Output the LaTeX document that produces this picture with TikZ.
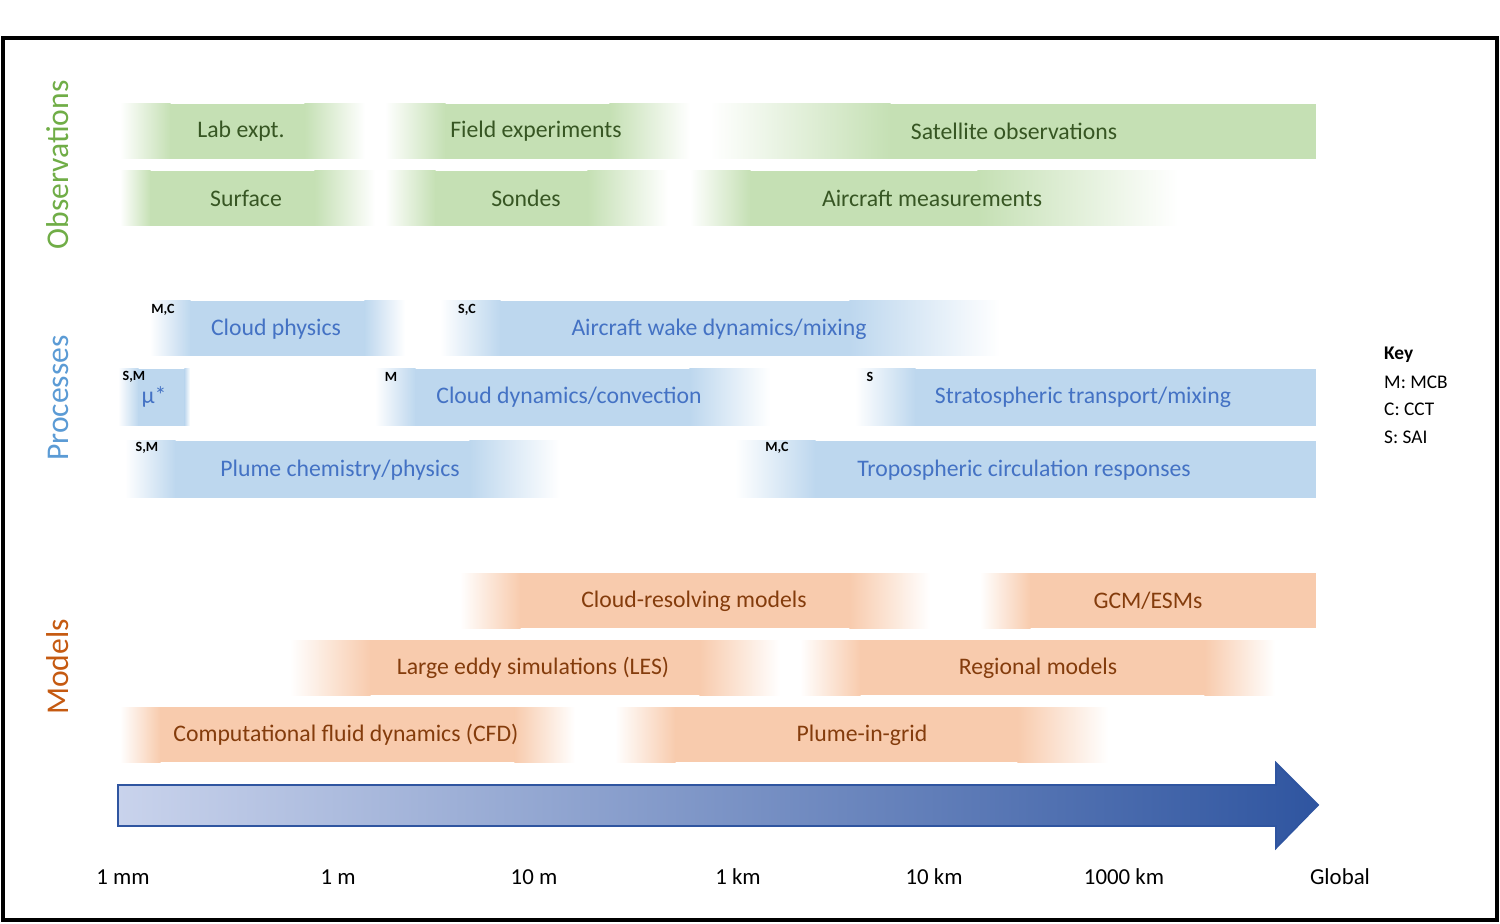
\documentclass[tikz,border=0pt]{standalone}
\usepackage{fontspec}
\setmainfont{Carlito}
\definecolor{gbar}{HTML}{C5E0B4}
\definecolor{bbar}{HTML}{BDD7EE}
\definecolor{obar}{HTML}{F8CBAD}
\definecolor{gtxt}{HTML}{375623}
\definecolor{btxt}{HTML}{4472C4}
\definecolor{otxt}{HTML}{843C0C}
\definecolor{gside}{HTML}{70AD47}
\definecolor{bside}{HTML}{5B9BD5}
\definecolor{oside}{HTML}{C55A11}
\definecolor{arrL}{HTML}{C9D3EC}
\definecolor{arrD}{HTML}{2F55A0}
\newcommand{\fb}[7]{%
  \shade[left color=white,right color=#5,shading angle=90] (#1,#3) rectangle ({#1+#6+0.6},#4);
  \fill[#5] ({#1+#6},#3) rectangle ({#2-#7},#4);
  \shade[left color=#5,right color=white] ({#2-#7-0.6},#3) rectangle (#2,#4);}
\tikzset{x=0.2mm,y=-0.2mm,
  lbl/.style={font=\fontsize{13.5}{14}\selectfont},
  tag/.style={font=\bfseries\fontsize{8}{9}\selectfont},
  side/.style={font=\fontsize{18}{20}\selectfont,rotate=90},
  scl/.style={font=\fontsize{13}{14}\selectfont},
  key/.style={font=\fontsize{11}{12}\selectfont,anchor=west}}
\begin{document}
\begin{tikzpicture}
\useasboundingbox (0,0) rectangle (1500,924);
\draw[line width=2.2pt] (3,38) rectangle (1497,920);
% Observations
\fb{120}{365}{104}{159}{gbar}{50}{60}
\fb{385}{690}{104}{159}{gbar}{60}{80}
\fb{710}{1316}{104}{159}{gbar}{180}{0}
\fb{120}{375}{171}{226}{gbar}{30}{60}
\fb{385}{668}{171}{226}{gbar}{50}{80}
\fb{690}{1178}{171}{226}{gbar}{60}{200}
\node[lbl,text=gtxt] (lab) at (241,131) {Lab expt.};
\node[lbl,text=gtxt] (field) at (536,131) {Field experiments};
\node[lbl,text=gtxt] (sat) at (1014,131) {Satellite observations};
\node[lbl,text=gtxt] (surf) at (246,198) {Surface};
\node[lbl,text=gtxt] (sondes) at (526,198) {Sondes};
\node[lbl,text=gtxt] (air) at (932,198) {Aircraft measurements};
% Processes
\fb{150}{405}{301}{356}{bbar}{40}{40}
\fb{440}{1000}{301}{356}{bbar}{60}{150}
\fb{118}{190}{369}{426}{bbar}{20}{5}
\fb{375}{770}{369}{426}{bbar}{40}{80}
\fb{855}{1316}{369}{426}{bbar}{60}{0}
\fb{125}{560}{441}{498}{bbar}{50}{90}
\fb{735}{1316}{441}{498}{bbar}{80}{0}
\node[lbl,text=btxt] (cp) at (276,329) {Cloud physics};
\node[lbl,text=btxt] (aw) at (719,329) {Aircraft wake dynamics/mixing};
\node[lbl,text=btxt] (mu) at (154,397) {µ*};
\node[lbl,text=btxt] (cd) at (569,397) {Cloud dynamics/convection};
\node[lbl,text=btxt] (st) at (1083,397) {Stratospheric transport/mixing};
\node[lbl,text=btxt] (pc) at (340,470) {Plume chemistry/physics};
\node[lbl,text=btxt] (tr) at (1024,470) {Tropospheric circulation responses};
\node[tag] (t1) at (163,310) {M,C};
\node[tag] (t2) at (467,310) {S,C};
\node[tag] (t3) at (134,377) {S,M};
\node[tag] (t4) at (391,377) {M};
\node[tag] (t5) at (870,377) {S};
\node[tag] (t6) at (147,448) {S,M};
\node[tag] (t7) at (777,448) {M,C};
% Models
\fb{460}{930}{573}{628}{obar}{60}{80}
\fb{980}{1316}{573}{628}{obar}{50}{0}
\fb{290}{780}{640}{695}{obar}{80}{80}
\fb{800}{1275}{640}{695}{obar}{60}{70}
\fb{120}{575}{707}{762}{obar}{40}{60}
\fb{615}{1108}{707}{762}{obar}{60}{90}
\node[lbl,text=otxt] (crm) at (694,601) {Cloud-resolving models};
\node[lbl,text=otxt] (gcm) at (1148,601) {GCM/ESMs};
\node[lbl,text=otxt] (les) at (533,668) {Large eddy simulations (LES)};
\node[lbl,text=otxt] (reg) at (1038,668) {Regional models};
\node[lbl,text=otxt] (cfd) at (346,735) {Computational fluid dynamics (CFD)};
\node[lbl,text=otxt] (pig) at (862,735) {Plume-in-grid};
% side labels
\node[side,text=gside] (so) at (58,165) {Observations};
\node[side,text=bside] (sp) at (58,398) {Processes};
\node[side,text=oside] (sm) at (58,667) {Models};
% arrow
\shade[left color=arrL,right color=arrD,draw=arrD,line width=1pt]
  (118,785) -- (1276,785) -- (1276,763) -- (1318,805) -- (1276,848) -- (1276,826) -- (118,826) -- cycle;
% scale
\node[scl] (s1) at (123,877) {1 mm};
\node[scl] (s2) at (338,877) {1 m};
\node[scl] (s3) at (534,877) {10 m};
\node[scl] (s4) at (738,877) {1 km};
\node[scl] (s5) at (934,877) {10 km};
\node[scl] (s6) at (1124,877) {1000 km};
\node[scl] (s7) at (1340,877) {Global};
% key
\node[key,font=\bfseries\fontsize{11}{12}\selectfont] (k0) at (1378,355) {Key};
\node[key] (k1) at (1378,382) {M: MCB};
\node[key] (k2) at (1378,409) {C: CCT};
\node[key] (k3) at (1378,437) {S: SAI};
\end{tikzpicture}
\end{document}
